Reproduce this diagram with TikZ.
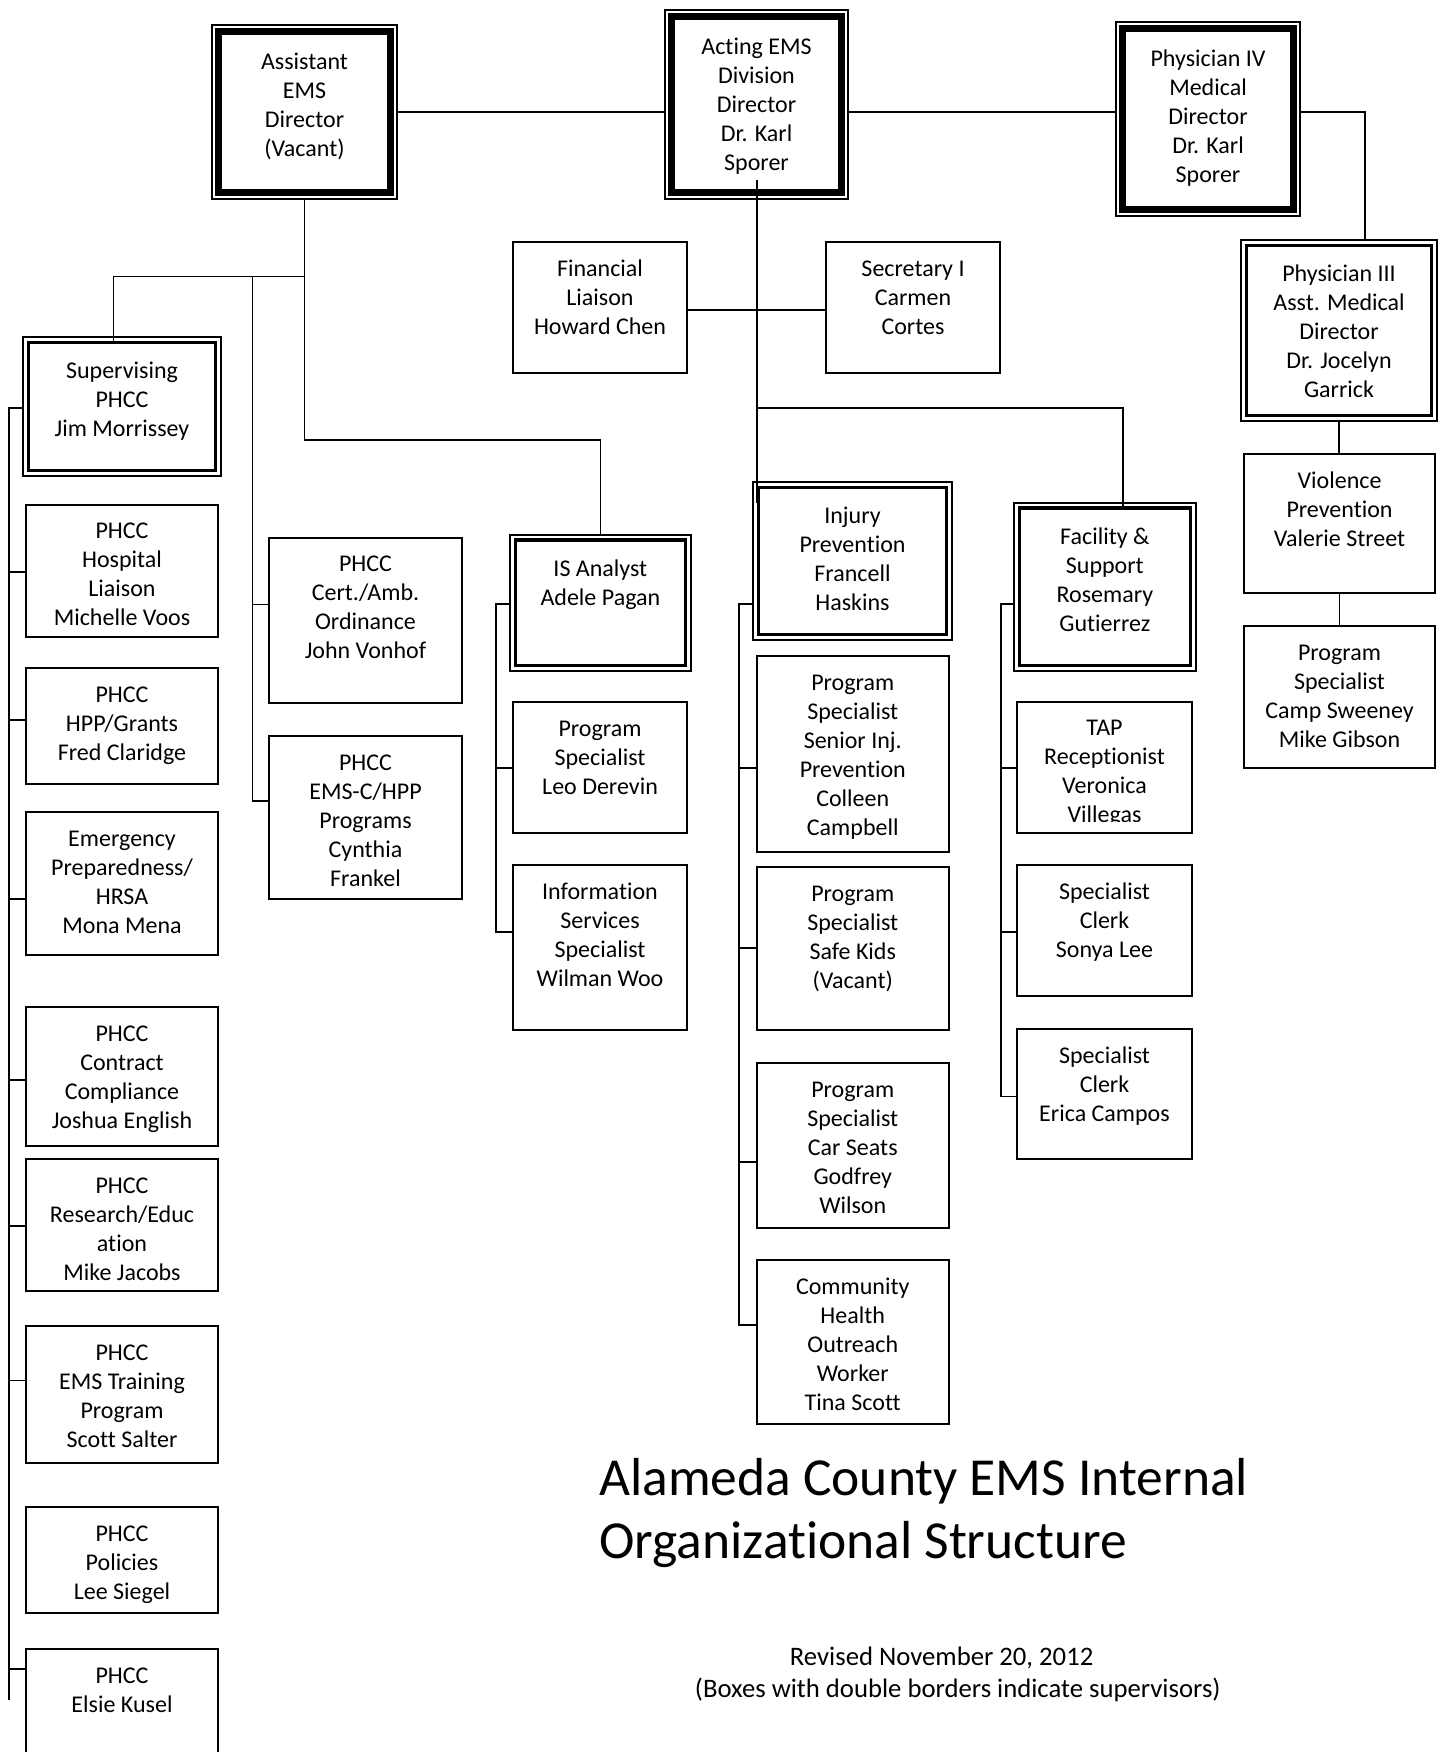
\documentclass[tikz,border=0pt]{standalone}
\usepackage{fontspec}
\setmainfont[Ligatures=CommonOff]{Carlito}
\usetikzlibrary{calc}
\tikzset{
  nb/.style={draw, line width=2pt, inner sep=0pt, outer sep=0pt, rectangle},
  db/.style={draw, line width=2.3pt, inner sep=0pt, outer sep=0pt, rectangle},
  tb/.style={draw, line width=1.4pt, inner sep=0pt, outer sep=0pt, rectangle},
  bt/.style={anchor=north, align=center, inner sep=0pt, font=\fontsize{24}{29}\selectfont},
  cn/.style={line width=1.6pt},
  bigtxt/.style={anchor=base west, inner sep=0pt, font=\fontsize{53.5}{63}\selectfont},
  smtxt/.style={anchor=base, inner sep=0pt, font=\fontsize{26.7}{31}\selectfont},
}
\newcommand\nbox[6]{%
  \node[nb, minimum width={#4-#2}, minimum height={#5-#3}] (#1) at ({(#2+#4)/2},{(#3+#5)/2}) {};
  \node[bt] (#1-t) at ($(#1.north)+(0,13.7)$) {\strut #6};}
\newcommand\dbox[6]{%
  \node[db, minimum width={#4-#2}, minimum height={#5-#3}] (#1) at ({(#2+#4)/2},{(#3+#5)/2}) {};
  \draw[line width=3.3pt] ($(#1.north west)+(5.2,5.2)$) rectangle ($(#1.south east)+(-5.2,-5.2)$);
  \node[bt] (#1-t) at ($(#1.north)+(0,21.2)$) {\strut #6};}
\newcommand\tbox[6]{%
  \node[tb, minimum width={#4-#2}, minimum height={#5-#3}] (#1) at ({(#2+#4)/2},{(#3+#5)/2}) {};
  \draw[line width=7.3pt] ($(#1.north west)+(6.7,6.7)$) rectangle ($(#1.south east)+(-6.7,-6.7)$);
  \node[bt] (#1-t) at ($(#1.north)+(0,23.7)$) {\strut #6};}
\begin{document}
\begin{tikzpicture}[x=1pt, y=-1pt]
\useasboundingbox (0,0) rectangle (1444,1752);
\fill[white] (0,0) rectangle (1444,1752);
\clip (0,0) rectangle (1444,1752);

% top row
\tbox{asst}{212}{25}{397}{199}{Assistant\\EMS\\Director\\(Vacant)}
\tbox{acting}{665}{10}{848}{199}{Acting EMS\\Division\\Director\\Dr. Karl\\Sporer}
\tbox{phys4}{1116}{22}{1300}{216}{Physician IV\\Medical\\Director\\Dr. Karl\\Sporer}
\dbox{phys3}{1241}{240}{1437}{421}{Physician III\\Asst. Medical\\Director\\Dr. Jocelyn\\Garrick}
\nbox{fin}{513}{242.5}{687}{373}{Financial\\Liaison\\Howard Chen}
\nbox{sec}{826}{242.5}{1000}{373}{Secretary I\\Carmen\\Cortes}

% left column
\dbox{sup}{23}{337}{221}{475.7}{Supervising\\PHCC\\Jim Morrissey}
\nbox{hosp}{26}{504.7}{218}{636.7}{PHCC\\Hospital\\Liaison\\Michelle Voos}
\nbox{hpp}{26}{668}{218}{783.7}{PHCC\\HPP/Grants\\Fred Claridge}
\nbox{emg}{26}{812}{218}{955}{Emergency\\Preparedness/\\HRSA\\Mona Mena}
\nbox{con}{26}{1007}{218}{1146}{PHCC\\Contract\\Compliance\\Joshua English}
\nbox{res}{26}{1159}{218}{1291}{PHCC\\Research/Educ\\ation\\Mike Jacobs}
\nbox{trn}{26}{1326}{218}{1463}{PHCC\\EMS Training\\Program\\Scott Salter}
\nbox{pol}{26}{1507}{218}{1613}{PHCC\\Policies\\Lee Siegel}
\nbox{els}{26}{1649}{218}{1790}{PHCC\\Elsie Kusel}

% middle-left column
\nbox{cert}{269.3}{537.7}{461.7}{702.5}{PHCC\\Cert./Amb.\\Ordinance\\John Vonhof}
\nbox{emsc}{269.3}{736}{461.7}{899.4}{PHCC\\EMS-C/HPP\\Programs\\Cynthia\\Frankel}

% IS column
\dbox{isa}{510}{534.7}{690.7}{671}{IS Analyst\\Adele Pagan}
\nbox{leo}{513}{702}{687}{833}{Program\\Specialist\\Leo Derevin}
\nbox{info}{513}{865}{687}{1030}{Information\\Services\\Specialist\\Wilman Woo}

% Injury column
\dbox{inj}{753}{482}{952}{640}{Injury\\Prevention\\Francell\\Haskins}
\nbox{sen}{756.7}{656}{948.8}{852}{Program\\Specialist\\Senior Inj.\\Prevention\\Colleen\\Campbell}
\nbox{safe}{756.7}{867}{948.8}{1030}{Program\\Specialist\\Safe Kids\\(Vacant)}
\nbox{car}{756.7}{1063.3}{948.8}{1227.7}{Program\\Specialist\\Car Seats\\Godfrey\\Wilson}
\nbox{com}{756.7}{1260}{948.8}{1424}{Community\\Health\\Outreach\\Worker\\Tina Scott}

% Facility column
\dbox{fac}{1014}{502.7}{1195.7}{671}{Facility \&\\Support\\Rosemary\\Gutierrez}
\node[nb, minimum width=175, minimum height=130.9] (tap) at (1104.5,767.15) {};
\begin{scope}
  \clip (1017,701.7) rectangle (1192,821.5);
  \node[bt] (tap-t) at ($(tap.north)+(0,13.7)$) {\strut TAP\\Receptionist\\Veronica\\Villegas};
\end{scope}
\nbox{son}{1017}{865}{1192}{996}{Specialist\\Clerk\\Sonya Lee}
\nbox{eri}{1017}{1029}{1192}{1159}{Specialist\\Clerk\\Erica Campos}

% right column
\nbox{vio}{1244}{454.3}{1435}{593.3}{Violence\\Prevention\\Valerie Street}
\nbox{camp}{1244}{626}{1435}{768.3}{Program\\Specialist\\Camp Sweeney\\Mike Gibson}

% connectors
\draw[cn] (asst.east) -- (asst.east -| acting.west);
\draw[cn] (acting.east |- asst.east) -- (phys4.west |- asst.east);
\draw[cn] (phys4.east |- asst.east) -| ($(phys3.north)+(26,0)$);
\draw[cn] ($(acting.south)+(0.5,-19)$) -- ($(inj.north west)+(4,21)$);
\coordinate (j2) at (757,408);
\draw[cn] (j2) -| ($(fac.north)+(17.85,3.3)$);
\draw[cn] (fin.east |- 0,310) -- (sec.west |- 0,310);
\draw[cn] (asst.south) -- ++(0,241) -| (isa.north);
\draw[cn] (asst.south |- 0,276.7) -| ($(sup.north)+(-8.7,5.7)$);
\draw[cn] (252.3,276.7) -- (252.3,800.7) -- (emsc.west |- 0,800.7);
\draw[cn] (252.3,604.3) -- (cert.west |- 0,604.3);

\draw[cn] (sup.west |- 0,408) -- (9,408) -- (9,1700);
\foreach \n/\y in {hosp/571.7, hpp/720, emg/899, con/1080, res/1226, trn/1380.5, els/1669}
  \draw[cn] (9,\y) -- (\n.west |- 0,\y);

\draw[cn] (isa.west |- 0,604) -- (496,604) -- (496,932) -- (info.west |- 0,932);
\draw[cn] (496,768) -- (leo.west |- 0,768);

\draw[cn] (inj.west |- 0,604) -- (739,604) -- (739,1325) -- (com.west |- 0,1325);
\foreach \n/\y in {sen/768, safe/948, car/1162}
  \draw[cn] (739,\y) -- (\n.west |- 0,\y);

\draw[cn] (fac.west |- 0,604) -- (1000.7,604) -- (1000.7,1096.6) -- (eri.west |- 0,1096.6);
\foreach \n/\y in {tap/768, son/932}
  \draw[cn] (1000.7,\y) -- (\n.west |- 0,\y);

\draw[cn] (phys3.south) -- (phys3.south |- vio.north);
\draw[cn] (vio.south) -- (vio.south |- camp.north);

% titles
\node[bigtxt] (title1) at (599,1495) {Alameda County EMS Internal};
\node[bigtxt] (title2) at (599,1558) {Organizational Structure};
\node[smtxt] (rev) at (941.6,1665.5) {Revised November 20, 2012};
\node[smtxt] (note) at (957.8,1697.5) {(Boxes with double borders indicate supervisors)};
\end{tikzpicture}
\end{document}
